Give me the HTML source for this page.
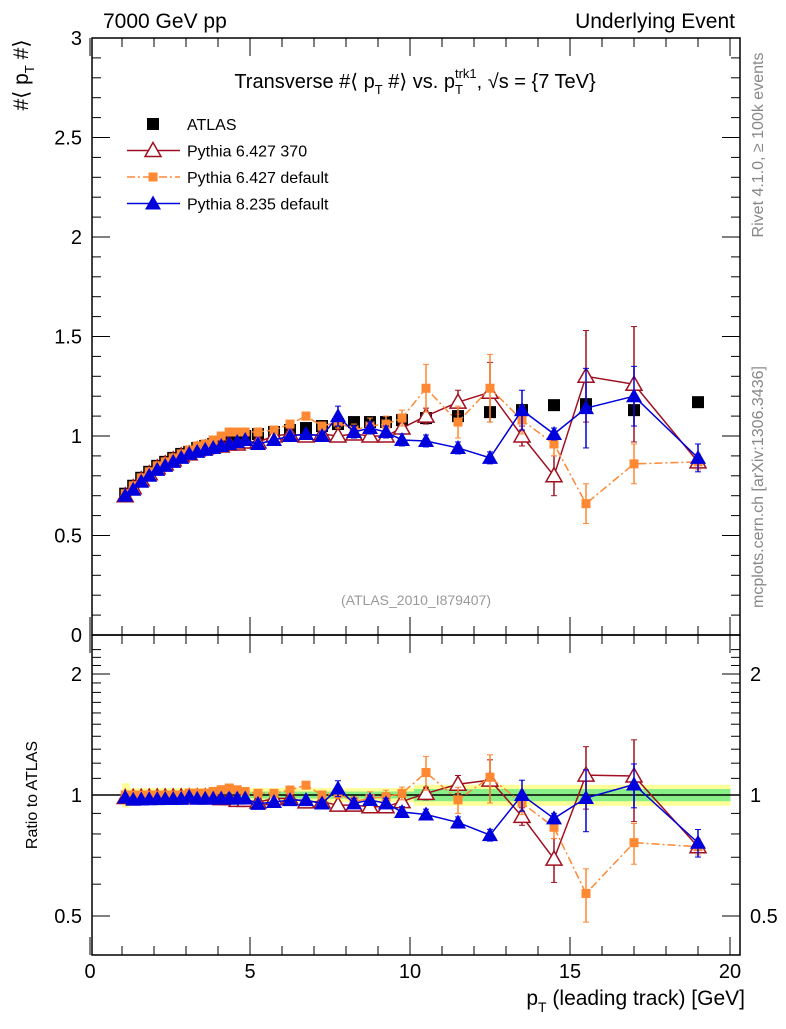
<!DOCTYPE html>
<html><head><meta charset="utf-8"><style>
body{margin:0;background:#fff;font-family:"Liberation Sans",sans-serif}
svg text{font-family:"Liberation Sans",sans-serif}
</style></head><body>
<svg id="c" width="786" height="1024" xmlns="http://www.w3.org/2000/svg"></svg>
<script>
const xs=[1.1,1.35,1.6,1.85,2.1,2.35,2.6,2.85,3.1,3.35,3.6,3.85,4.1,4.35,4.6,4.85,5.25,5.75,6.25,6.75,7.25,7.75,8.25,8.75,9.25,9.75,10.5,11.5,12.5,13.5,14.5,15.5,17,19];
const atlas=[0.71,0.75,0.79,0.82,0.85,0.87,0.89,0.91,0.92,0.94,0.95,0.96,0.97,0.98,0.99,1.0,1.01,1.02,1.03,1.04,1.05,1.06,1.07,1.07,1.07,1.08,1.09,1.1,1.12,1.13,1.155,1.16,1.13,1.17];
const p370=[0.70,0.74,0.78,0.81,0.84,0.86,0.88,0.90,0.91,0.93,0.94,0.95,0.95,0.96,0.96,0.97,0.97,1.0,1.01,1.0,1.01,1.0,1.01,1.0,1.0,1.04,1.1,1.17,1.22,1.0,0.8,1.3,1.26,0.87];
const p370e=[0.01,0.01,0.01,0.01,0.01,0.01,0.01,0.01,0.01,0.01,0.01,0.01,0.01,0.01,0.01,0.01,0.01,0.01,0.01,0.01,0.01,0.02,0.02,0.03,0.03,0.03,0.04,0.06,0.15,0.05,0.1,0.23,0.29,0.03];
const p6d=[0.71,0.75,0.79,0.82,0.85,0.87,0.89,0.91,0.93,0.95,0.96,0.98,1.0,1.02,1.02,1.02,1.02,1.03,1.06,1.1,1.05,1.07,1.03,1.05,1.06,1.09,1.24,1.07,1.24,1.08,0.96,0.66,0.86,0.87];
const p6de=[0.01,0.01,0.01,0.01,0.01,0.01,0.01,0.01,0.01,0.01,0.01,0.01,0.01,0.01,0.01,0.01,0.01,0.01,0.01,0.02,0.02,0.03,0.03,0.04,0.04,0.04,0.12,0.08,0.17,0.07,0.06,0.1,0.1,0.04];
const p8=[0.70,0.73,0.77,0.80,0.83,0.85,0.87,0.89,0.91,0.92,0.93,0.94,0.95,0.96,0.97,0.98,0.96,0.98,1.0,1.01,1.0,1.1,1.02,1.04,1.02,0.98,0.975,0.94,0.89,1.13,1.01,1.14,1.2,0.89];
const p8e=[0.01,0.01,0.01,0.01,0.01,0.01,0.01,0.01,0.01,0.01,0.01,0.01,0.01,0.01,0.01,0.01,0.01,0.01,0.01,0.01,0.02,0.05,0.03,0.03,0.03,0.03,0.03,0.03,0.03,0.1,0.03,0.2,0.15,0.07];
const yTicks=[0,0.5,1,1.5,2,2.5,3];
const yLabels=["0","0.5","1","1.5","2","2.5","3"];
const rTicks=[0.5,1,2];
const rLabels=["0.5","1","2"];
const xTicks=[0,5,10,15,20];
const xLabels=["0","5","10","15","20"];

const NS="http://www.w3.org/2000/svg";
const svg=document.getElementById('c');
function el(t,a,p){const e=document.createElementNS(NS,t);for(const k in a)e.setAttribute(k,a[k]);(p||svg).appendChild(e);return e;}
const X=v=>90+32*v;
const Y=v=>635-199*v;
const R=r=>795-121*Math.log2(r);
const L=92,Rt=740,T=38,MB=635,RB=955;
function txt(s,x,y,size,anchor,name,extra){const t=el('text',Object.assign({x:x,y:y,'font-size':size,'text-anchor':anchor||'start',fill:'#000'},extra||{}));t.textContent=s;return t;}

// ratio bands
const band=el('g',{});


for(let i=0;i<xs.length;i++){
 const x0=i==0?1:(xs[i-1]+xs[i])/2, x1=i==xs.length-1?20:(xs[i]+xs[i+1])/2;
 const w=i==0?0.07:(i<26?0.04:0.06), g=i<26?0.02:0.035;
 el('rect',{x:X(x0),y:R(1+w),width:X(x1)-X(x0)+0.5,height:R(1-w)-R(1+w),fill:'#ffff99'},band);
 el('rect',{x:X(x0),y:R(1+g),width:X(x1)-X(x0)+0.5,height:R(1-g)-R(1+g),fill:'#88ee88'},band);
}
const one=el('line',{x1:L,x2:Rt,y1:R(1),y2:R(1),stroke:'#000','stroke-width':1.5});



// frames
const f1=el('rect',{x:L,y:T,width:Rt-L,height:MB-T,fill:'none',stroke:'#000','stroke-width':1.5});


const f2=el('rect',{x:L,y:MB,width:Rt-L,height:RB-MB,fill:'none',stroke:'#000','stroke-width':1.5});



// main y ticks
for(let v=0;v<=3.001;v+=0.1){const maj=Math.abs(v*2-Math.round(v*2))<0.01;const l=maj?18:9;
 el('line',{x1:L,x2:L+l,y1:Y(v),y2:Y(v),stroke:'#000'});el('line',{x1:Rt,x2:Rt-l,y1:Y(v),y2:Y(v),stroke:'#000'});}
yTicks.forEach((v,i)=>txt(yLabels[i],82,Y(v)+7,20,'end','y-tick-label'));
// ratio y ticks
for(let r=0.4;r<=2.31;r+=0.1){const maj=rTicks.some(t=>Math.abs(t-r)<0.01);const l=maj?18:9;
 el('line',{x1:L,x2:L+l,y1:R(r),y2:R(r),stroke:'#000'});el('line',{x1:Rt,x2:Rt-l,y1:R(r),y2:R(r),stroke:'#000'});}
rTicks.forEach((v,i)=>{txt(rLabels[i],82,R(v)+7,20,'end','ratio-tick-label-left');txt(rLabels[i],750,R(v)+7,20,'start','ratio-tick-label-right');});
// x ticks
for(let v=0;v<=20.01;v+=1){const maj=v%5==0;const l=maj?18:9;
 [MB,RB].forEach(b=>el('line',{x1:X(v),x2:X(v),y1:b,y2:b-l,stroke:'#000'}));
 el('line',{x1:X(v),x2:X(v),y1:T,y2:T+l,stroke:'#000'});
 el('line',{x1:X(v),x2:X(v),y1:MB,y2:MB+l,stroke:'#000'});}
xTicks.forEach((v,i)=>txt(xLabels[i],X(v),978,20,'middle','x-tick-label'));

// series
function marker(type,cx,cy,color,g){
 if(type=='sq')el('rect',{x:cx-6,y:cy-6,width:12,height:12,fill:'#000'},g);
 if(type=='osq')el('rect',{x:cx-4.5,y:cy-4.5,width:9,height:9,fill:color},g);
 if(type=='otri')el('polygon',{points:`${cx},${cy-8} ${cx-8},${cy+6} ${cx+8},${cy+6}`,fill:'#fff',stroke:color,'stroke-width':1.5},g);
 if(type=='tri')el('polygon',{points:`${cx},${cy-8} ${cx-8},${cy+6} ${cx+8},${cy+6}`,fill:color},g);
}
function series(name,vals,errs,color,type,dash){
 [[Y,'main'],[R,'ratio']].forEach(([f,which])=>{
  const g=el('g',{});
  const val=i=>which=='main'?vals[i]:vals[i]/atlas[i];
  const er=i=>which=='main'?errs[i]:errs[i]/atlas[i];
  if(color){
   let d='';xs.forEach((x,i)=>{d+=(i?'L':'M')+X(x)+','+f(val(i));});
   const p={d:d,fill:'none',stroke:color,'stroke-width':1.5};if(dash)p['stroke-dasharray']=dash;
   el('path',p,g);
   xs.forEach((x,i)=>{const lo=Math.max(val(i)-er(i),0.01),y1=f(lo),y2=f(val(i)+er(i));
    el('line',{x1:X(x),x2:X(x),y1:Math.min(y1,which=='main'?MB:RB),y2:y2,stroke:color,'stroke-width':1.5},g);
    el('line',{x1:X(x)-3,x2:X(x)+3,y1:y2,y2:y2,stroke:color},g);
    if(y1<RB)el('line',{x1:X(x)-3,x2:X(x)+3,y1:y1,y2:y1,stroke:color},g);});
  }
  xs.forEach((x,i)=>{ if(which=='ratio'&&!color)return; marker(type,X(x),f(val(i)),color,g);});
 });
}
series('atlas-data',atlas,atlas.map(()=>0),null,'sq');
series('pythia6-370',p370,p370e,'#a01020','otri');
series('pythia6-default',p6d,p6de,'#ff8833','osq','8,3,2,3');
series('pythia8-default',p8,p8e,'#0000dd','tri');

// legend
const lg=el('g',{});
[['ATLAS',null,'sq',null],['Pythia 6.427 370','#a01020','otri',null],['Pythia 6.427 default','#ff8833','osq','8,3,2,3'],['Pythia 8.235 default','#0000dd','tri',null]].forEach((e,i)=>{
 const y=124+i*26.5;
 if(e[1]){const p={x1:127,x2:180,y1:y,y2:y,stroke:e[1],'stroke-width':1.5};if(e[3])p['stroke-dasharray']=e[3];el('line',p,lg);}
 marker(e[2],153,y,e[1],lg);
 txt(e[0],187,y+6,16,'start','legend-entry');
});

// texts
txt('7000 GeV pp',103,28,21,'start','energy-label');
txt('Underlying Event',735,28,21,'end','process-label');
const tt=txt('',415,88,20,'middle','plot-title');
tt.innerHTML='Transverse #⟨ p<tspan font-size="13" dy="6">T</tspan><tspan dy="-6"> #⟩ vs. p</tspan><tspan font-size="13" dy="6">T</tspan><tspan font-size="13" dx="-8" dy="-16">trk1</tspan><tspan dy="10">, √s = {7 TeV}</tspan>';
txt('(ATLAS_2010_I879407)',416,605,14,'middle','analysis-id',{fill:'#999'});
const yt=txt('',0,0,21,'middle','y-axis-title',{transform:'translate(28,75) rotate(-90)'});
yt.innerHTML='#⟨ p<tspan font-size="13" dy="6">T</tspan><tspan dy="-6"> #⟩</tspan>';
txt('Ratio to ATLAS',0,0,16,'middle','ratio-axis-title',{transform:'translate(37,795) rotate(-90)'});
const xt=txt('',745,1005,21,'end','x-axis-title');
xt.innerHTML='p<tspan font-size="14" dy="7">T</tspan><tspan dy="-7"> (leading track) [GeV]</tspan>';
txt('Rivet 4.1.0, ≥ 100k events',0,0,16,'middle','rivet-version',{transform:'translate(763,145) rotate(-90)',fill:'#888'});
txt('mcplots.cern.ch [arXiv:1306.3436]',0,0,16,'middle','mcplots-credit',{transform:'translate(763,487) rotate(-90)',fill:'#888'});
</script>
</body></html>
